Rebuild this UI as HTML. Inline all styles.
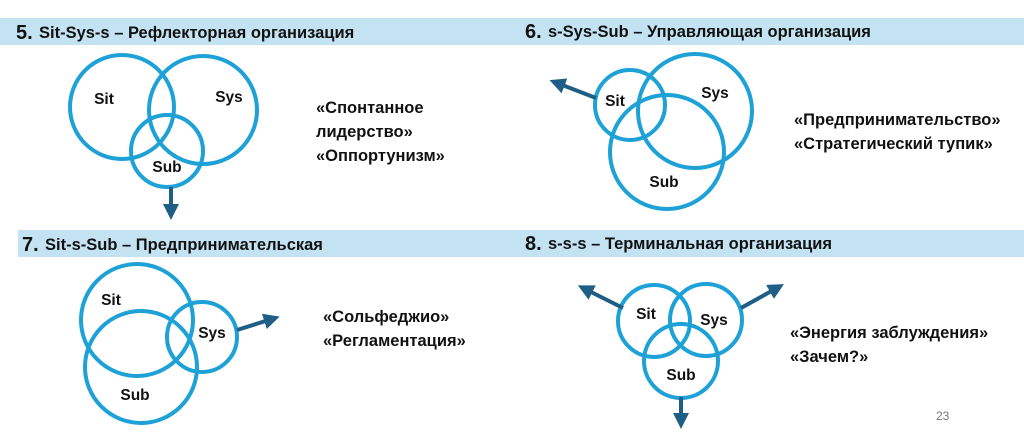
<!DOCTYPE html>
<html><head><meta charset="utf-8"><style>
html,body{margin:0;padding:0;background:#fff;}
body{width:1024px;height:438px;overflow:hidden;position:relative;font-family:"Liberation Sans","DejaVu Sans",sans-serif;}
svg{position:absolute;left:0;top:0;}
</style></head><body>
<svg width="1024" height="438" viewBox="0 0 1024 438" xmlns="http://www.w3.org/2000/svg">
<defs>
<marker id="ah" markerWidth="4" markerHeight="4" refX="2" refY="2" orient="auto" markerUnits="strokeWidth">
<path d="M0,0 L4,2 L0,4 Z" fill="#1f5f86"/></marker>
</defs>
<rect x="0" y="18" width="1024" height="27" fill="#c3e3f3"/>
<rect x="18" y="230" width="1006" height="27" fill="#c3e3f3"/>
<g font-family="Liberation Sans, DejaVu Sans, sans-serif" font-weight="bold" fill="#111">
<text x="16" y="39" font-size="20">5.</text><text x="39" y="38" font-size="16.5">Sit-Sys-s – Рефлекторная организация</text>
<text x="525" y="38" font-size="20">6.</text><text x="548" y="37" font-size="16.5">s-Sys-Sub – Управляющая организация</text>
<text x="22" y="251" font-size="20">7.</text><text x="45" y="250" font-size="16.5">Sit-s-Sub – Предпринимательская</text>
<text x="525" y="250" font-size="20">8.</text><text x="548" y="249" font-size="16.5">s-s-s – Терминальная организация</text>
</g>
<g fill="none" stroke="#1da1d6" stroke-width="4">
<circle cx="122" cy="107" r="52"/><circle cx="203" cy="110" r="54"/><circle cx="167" cy="151" r="36"/>
<circle cx="630" cy="105" r="35"/><circle cx="695" cy="111" r="57"/><circle cx="667" cy="152" r="57"/>
<circle cx="137" cy="320" r="56"/><circle cx="141" cy="367" r="56"/><circle cx="202" cy="337" r="35"/>
<circle cx="654" cy="321" r="36"/><circle cx="706" cy="320" r="36"/><circle cx="681" cy="361" r="37"/>
</g>
<g stroke="#1f5f86" stroke-width="4" marker-end="url(#ah)">
<line x1="171" y1="187" x2="171" y2="212"/>
<line x1="596" y1="98" x2="557" y2="83"/>
<line x1="237" y1="330" x2="272" y2="319"/>
<line x1="623" y1="308" x2="585" y2="289"/>
<line x1="741" y1="308" x2="777" y2="288"/>
<line x1="681" y1="397" x2="681" y2="421"/>
</g>
<g font-family="Liberation Sans, DejaVu Sans, sans-serif" font-weight="bold" font-size="15.5" fill="#111" text-anchor="middle">
<text x="104" y="104">Sit</text><text x="229" y="102">Sys</text><text x="167" y="172">Sub</text>
<text x="615" y="106">Sit</text><text x="715" y="98">Sys</text><text x="664" y="187">Sub</text>
<text x="111" y="305">Sit</text><text x="212" y="338">Sys</text><text x="135" y="400">Sub</text>
<text x="646" y="319">Sit</text><text x="714" y="325">Sys</text><text x="681" y="380">Sub</text>
</g>
<g font-family="Liberation Sans, DejaVu Sans, sans-serif" font-weight="bold" font-size="16.5" fill="#111">
<text x="316" y="113">«Спонтанное</text><text x="316" y="137">лидерство»</text><text x="316" y="161">«Оппортунизм»</text>
<text x="794" y="125">«Предпринимательство»</text><text x="794" y="149">«Стратегический тупик»</text>
<text x="323" y="322">«Сольфеджио»</text><text x="323" y="346">«Регламентация»</text>
<text x="790" y="338">«Энергия заблуждения»</text><text x="790" y="362">«Зачем?»</text>
</g>
<text x="936" y="420" font-family="Liberation Sans, sans-serif" font-size="12" fill="#777">23</text>
</svg>
</body></html>
